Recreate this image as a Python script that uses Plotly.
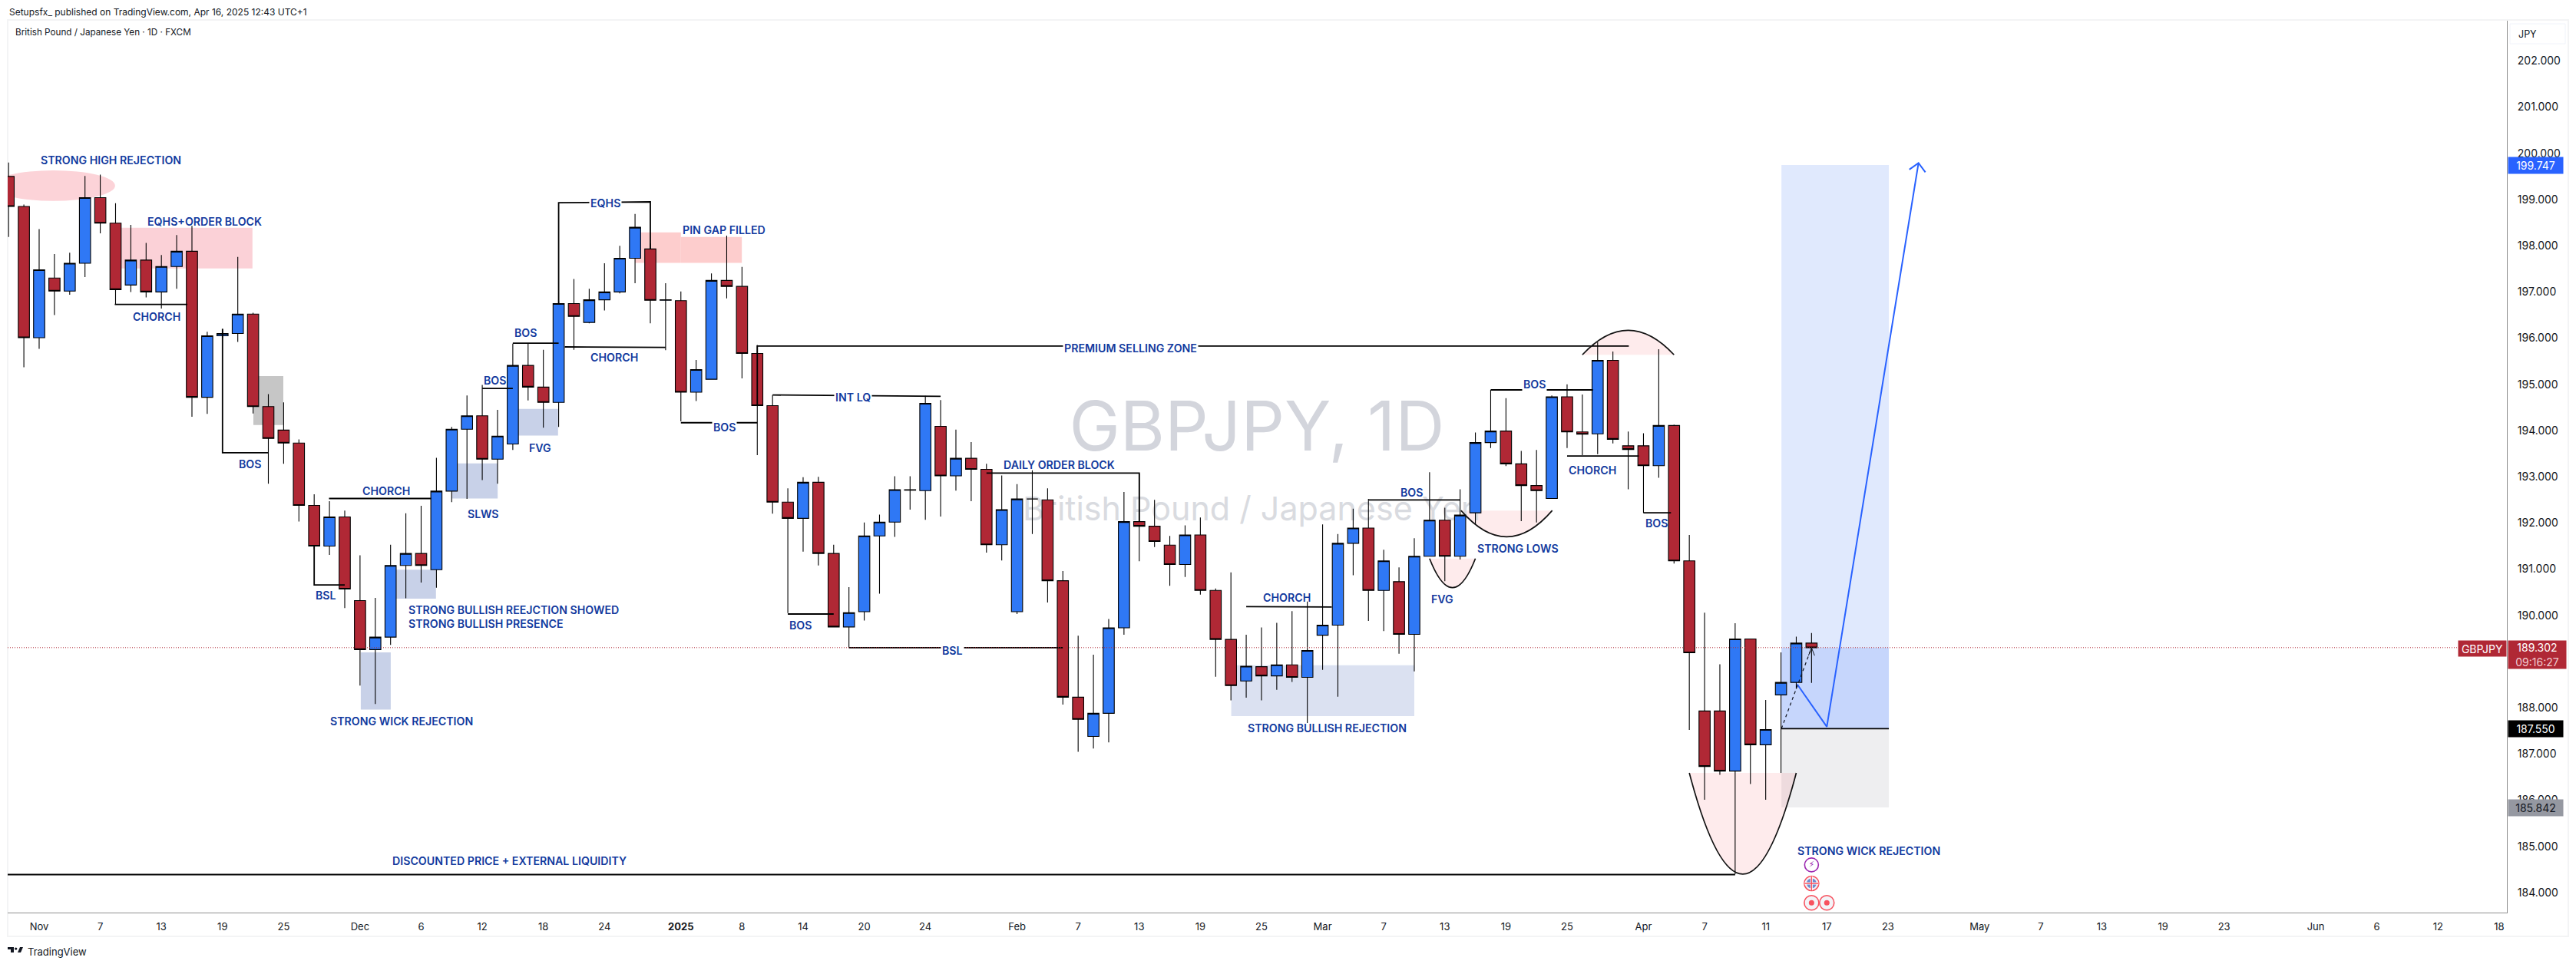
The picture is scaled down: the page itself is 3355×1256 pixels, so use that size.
import plotly.graph_objects as go

# ---------- candle data (index = trading session, 0 = 30 Oct 2024) ----------
opens = [199.50,198.85,196.01,197.30,197.02,197.62,199.04,198.49,197.15,197.69,197.00,197.55,197.88,194.72,196.05,196.10,196.52,194.52,194.01,193.73,
192.38,191.50,192.13,190.32,189.26,189.53,191.08,191.34,190.99,192.69,194.03,194.32,193.38,193.71,195.41,194.94,194.61,196.75,196.34,196.83,
197.00,197.73,197.93,196.82,196.81,194.83,195.11,197.25,197.12,195.67,194.54,192.45,192.10,192.88,191.34,189.75,190.08,191.72,192.02,192.72,
192.70,194.09,193.02,193.40,193.16,191.53,190.08,192.52,192.50,190.75,188.23,187.38,187.88,189.73,192.03,191.93,191.52,191.10,191.74,190.54,
189.48,188.58,188.89,188.69,188.93,188.66,189.57,189.79,191.56,191.89,190.54,190.73,189.59,191.28,192.06,191.28,192.22,193.74,193.99,193.28,
192.81,192.53,194.73,193.97,193.93,195.52,193.67,193.67,193.24,194.11,191.18,187.93,187.93,186.63,189.49,187.20,188.28,188.55,189.40]
highs = [199.80,198.89,198.36,197.82,197.85,199.51,199.54,198.92,198.45,198.06,197.80,198.23,198.43,196.14,196.20,197.76,196.55,194.79,194.61,193.81,
192.62,192.47,192.27,191.30,190.38,191.53,192.21,192.37,193.41,194.08,194.76,194.99,194.45,195.88,195.88,195.75,196.80,197.28,197.07,197.62,
198.00,198.69,198.05,197.19,197.01,195.53,197.40,198.22,197.54,195.85,194.77,192.75,192.99,193.00,191.53,190.61,192.01,192.18,193.01,193.01,
194.75,194.66,194.02,193.75,193.28,193.03,192.84,193.14,192.75,190.96,189.56,189.15,189.92,192.67,193.07,192.50,191.72,191.95,192.12,190.58,
190.93,189.58,189.74,189.84,190.09,190.30,191.97,191.76,192.31,192.52,191.42,191.04,191.67,193.10,192.33,192.73,193.96,194.88,194.70,193.56,
193.58,194.76,195.00,194.78,195.91,195.71,193.98,193.94,195.76,194.13,191.74,190.06,188.94,189.83,189.50,188.17,189.20,189.54,189.62]
lows = [198.19,195.37,195.77,196.50,196.94,197.32,198.27,196.73,197.00,196.88,196.64,197.07,194.30,194.36,196.00,195.92,194.37,192.85,193.28,192.03,
191.43,191.31,190.16,188.48,188.08,189.36,190.37,190.71,190.60,192.45,192.52,192.93,192.85,193.58,194.65,194.06,194.08,195.75,196.32,196.60,
196.97,197.19,196.32,195.74,194.20,194.64,195.11,196.86,195.13,193.47,192.20,190.05,191.38,191.08,189.75,189.30,189.89,190.47,191.70,192.29,
192.07,192.14,192.70,192.47,191.36,191.19,190.03,191.76,190.28,188.07,187.05,187.12,187.25,189.58,191.17,191.48,190.64,190.83,190.45,188.67,
188.16,188.22,188.16,188.39,188.56,187.67,188.82,188.24,190.87,189.88,189.66,189.17,188.79,191.28,190.74,191.21,191.97,193.62,193.23,192.04,
192.01,192.53,193.62,193.47,193.49,193.72,192.73,192.22,192.98,191.12,187.52,186.01,186.55,184.40,186.35,186.01,186.59,188.41,188.54]
closes = [198.85,196.01,197.48,197.02,197.62,199.04,198.49,197.05,197.69,197.00,197.55,197.88,194.72,196.05,196.10,196.52,194.52,193.83,193.73,192.38,
191.50,192.13,190.57,189.26,189.53,191.08,191.34,191.08,192.69,194.03,194.32,193.38,193.88,195.41,194.94,194.61,196.75,196.47,196.83,197.00,
197.73,198.40,196.82,196.83,194.83,195.32,197.25,197.12,195.67,194.54,192.45,192.10,192.88,191.34,189.75,190.06,191.72,192.02,192.72,192.71,
194.59,193.02,193.40,193.16,191.53,192.29,192.52,192.52,190.75,188.23,187.75,187.88,189.73,192.03,191.93,191.60,191.10,191.74,190.54,189.48,
188.48,188.90,188.69,188.93,188.66,189.24,189.79,191.56,191.89,190.54,191.18,189.59,191.28,192.06,191.28,192.17,193.74,193.99,193.28,192.81,
192.70,194.73,193.97,193.92,195.52,193.81,193.59,193.24,194.11,191.18,189.19,186.73,186.63,189.49,187.20,187.53,188.55,189.40,189.30]
sessions = list(range(len(closes)))

# ---------- axes ----------
x_tick_pos = [2,6,10,14,18,23,27,31,35,39,44,48,52,56,60,66,70,74,78,82,86,90,94,98,102,107,111,115,119,123,129,133,137,141,145,151,155,159,163]
x_tick_txt = ["Nov","7","13","19","25","Dec","6","12","18","24","<b>2025</b>","8","14","20","24","Feb","7","13","19","25","Mar","7","13","19","25","Apr","7","11","17","23","May","7","13","19","23","Jun","6","12","18"]
y_tick_pos = [184,185,186,187,188,190,191,192,193,194,195,196,197,198,199,200,201,202]
y_tick_txt = ["%d.000" % v for v in y_tick_pos]
x_range = [-0.06, 163.51]
y_range = [183.568, 202.87]

# ---------- price levels ----------
last_price = 189.302
entry_price = 187.55
target_price = 199.747
stop_price = 185.842

# ---------- drawings: zones (x0, x1, y0, y1, colour) ----------
zones = [
    (7.38,15.96,198.39,197.51,"#fbd1d7"),
    (16.02,17.98,195.18,194.12,"#c6c6c6"),
    (29.02,32.01,193.29,192.53,"#c8d1e8"),
    (33.0,35.96,194.47,193.89,"#c8d1e8"),
    (25.03,27.97,190.99,190.36,"#c8d1e8"),
    (23.05,25.01,189.20,187.96,"#c8d1e8"),
    (41.0,44.0,198.29,197.63,"#fdcdcd"),
    (44.0,47.99,198.19,197.63,"#fdcdcd"),
    (80.02,92.0,188.92,187.82,"#dbe1f1"),
    (116.03,123.06,199.747,189.302,"#e0e9fd"),
    (116.03,123.06,189.302,187.55,"#c6d6fc"),
    (116.03,123.06,187.55,185.842,"#eeeef0"),
]
# ellipse (x0, x1, y0, y1)
ellipse = (-1.1,6.97,199.63,198.97)
# arcs (x0, x1, chord price, extreme price)
arcs = [
    (95.06,101.03,192.27,191.70),
    (93.0,96.0,191.23,190.60),
    (103.0,109.0,195.64,196.17),
    (110.0,117.0,186.59,184.40),
]
# black brackets, list of polylines [(x,y),...]
brackets = [
    [(6.95,196.73),(11.7,196.73)],
    [(14,196.2),(14,193.52),(17.0,193.52)],
    [(20.97,192.53),(27.65,192.53)],
    [(20,191.5),(20,190.66),(22,190.66)],
    [(31,194.91),(33,194.91)],
    [(33,195.89),(36,195.89)],
    [(36,196.75),(36,198.93),(42,198.95),(42,197.93)],
    [(36.4,195.81),(43,195.80)],
    [(44,194.17),(49,194.17)],
    [(49,194.54),(49,195.83),(106.04,195.83)],
    [(50,194.77),(61,194.74)],
    [(51,190.03),(54,190.03)],
    [(55,189.30),(69,189.30)],
    [(64,193.08),(74,193.08),(74,192.03)],
    [(81,190.19),(86.6,190.18)],
    [(89,192.50),(95,192.50)],
    [(97,194.88),(103.7,194.88)],
    [(102,193.45),(106.7,193.45)],
    [(107,192.22),(108.8,192.22)],
    [(-1,184.39),(113,184.39)],
    [(116.03,187.55),(123.06,187.55)],
]
# projected path
path_x = [117.06,119.0,125.0]
path_y = [188.51,187.59,199.79]
head_x = [124.4,125.0,125.45]
head_y = [199.65,199.79,199.59]
dash_x = [116.03,118.0]
dash_y = [187.55,189.30]
dash_head_x = [117.8,118.0,118.2]
dash_head_y = [189.13,189.30,189.13]

# labels (text, x, y, white background)
labels = [
    ("STRONG HIGH REJECTION",6.7,199.85,False),
    ("EQHS+ORDER BLOCK",12.84,198.53,False),
    ("CHORCH",9.67,196.47,False),
    ("BOS",15.8,193.27,False),
    ("CHORCH",24.69,192.70,False),
    ("BSL",20.76,190.43,False),
    ("STRONG WICK REJECTION",25.74,187.72,False),
    ("SLWS",31.07,192.20,False),
    ("BOS",31.82,195.08,False),
    ("BOS",33.84,196.11,False),
    ("FVG",34.81,193.62,False),
    ("CHORCH",39.63,195.58,False),
    ("EQHS",39.06,198.93,True),
    ("PIN GAP FILLED",46.83,198.34,False),
    ("BOS",46.83,194.07,True),
    ("PREMIUM SELLING ZONE",73.43,195.79,True),
    ("INT LQ",55.26,194.72,True),
    ("BOS",51.84,189.79,False),
    ("BSL",61.77,189.24,True),
    ("DAILY ORDER BLOCK",68.77,193.26,False),
    ("CHORCH",83.67,190.38,False),
    ("STRONG BULLISH REJECTION",86.3,187.56,False),
    ("BOS",91.83,192.66,False),
    ("FVG",93.82,190.36,False),
    ("STRONG LOWS",98.77,191.45,False),
    ("BOS",99.85,195.01,True),
    ("CHORCH",103.67,193.15,False),
    ("BOS",107.84,191.99,False),
    ("STRONG WICK REJECTION",121.75,184.91,False),
    ("DISCOUNTED PRICE + EXTERNAL LIQUIDITY",32.8,184.69,False),
]
multi_label = "STRONG BULLISH REEJCTION SHOWED<br>STRONG BULLISH PRESENCE"
multi_label_pos = (26.09,189.97)

# event markers
event_x = [118,118,118,119]
event_y = [184.60,184.20,183.78,183.78]

W, H = 3355, 1256
L, R, T, B = 10, 3265, 27, 1189
def px(v): return (v - L) / (R - L)
def py(v): return (B - v) / (B - T)

INK = "#131722"
LABEL = "#123a9e"
FONT = "Inter"

fig = go.Figure()

# watermark on the base subplot, so the candles overlay it
fig.add_trace(go.Scatter(x=[81.7], y=[193.93], mode="text", text=["GBPJPY, 1D"],
    textfont=dict(family=FONT, size=89, color="#d3d5dc"), hoverinfo="skip", showlegend=False))
fig.add_trace(go.Scatter(x=[81.35], y=[192.24], mode="text", text=["British Pound / Japanese Yen"],
    textfont=dict(family=FONT, size=43, color="#d9dbe0"), hoverinfo="skip", showlegend=False))

fig.add_trace(go.Candlestick(
    x=sessions, open=opens, high=highs, low=lows, close=closes, xaxis="x2", yaxis="y2",
    whiskerwidth=0, hoverinfo="skip", showlegend=False,
    increasing=dict(fillcolor="#2f78f5", line=dict(color="#000000", width=1.1)),
    decreasing=dict(fillcolor="#b02835", line=dict(color="#000000", width=1.1)),
))

# brackets
bx, by = [], []
for poly in brackets:
    bx += [p[0] for p in poly] + [None]
    by += [p[1] for p in poly] + [None]
fig.add_trace(go.Scatter(x=bx, y=by, mode="lines", xaxis="x2", yaxis="y2", hoverinfo="skip",
    line=dict(color="#000000", width=1.8), showlegend=False, cliponaxis=True))
# current price line
fig.add_trace(go.Scatter(x=x_range, y=[last_price, last_price], mode="lines", xaxis="x2", yaxis="y2",
    hoverinfo="skip", line=dict(color="#b02835", width=1, dash="1px 2px"), showlegend=False))
# projected path
fig.add_trace(go.Scatter(x=path_x, y=path_y, mode="lines", xaxis="x2", yaxis="y2", hoverinfo="skip",
    line=dict(color="#2962ff", width=2), showlegend=False))
fig.add_trace(go.Scatter(x=head_x, y=head_y, mode="lines", xaxis="x2", yaxis="y2", hoverinfo="skip",
    line=dict(color="#2962ff", width=2), showlegend=False))
fig.add_trace(go.Scatter(x=dash_x, y=dash_y, mode="lines", xaxis="x2", yaxis="y2", hoverinfo="skip",
    line=dict(color="#131722", width=1.2, dash="4px 4px"), showlegend=False))
fig.add_trace(go.Scatter(x=dash_head_x, y=dash_head_y, mode="lines", xaxis="x2", yaxis="y2", hoverinfo="skip",
    line=dict(color="#131722", width=1), showlegend=False))

# event markers
fig.add_trace(go.Scatter(x=event_x[:1], y=event_y[:1], mode="markers+text", xaxis="x2", yaxis="y2", hoverinfo="skip",
    marker=dict(size=18, color="#ffffff", line=dict(color="#9c27b0", width=1.6)), showlegend=False,
    text=["⚡"], textposition="middle center", textfont=dict(family="DejaVu Sans", size=11, color="#9c27b0"), cliponaxis=False))
fig.add_trace(go.Scatter(x=event_x[1:], y=event_y[1:], mode="markers", xaxis="x2", yaxis="y2", hoverinfo="skip",
    marker=dict(size=19, color="#f3f4f8", line=dict(color="#f7525f", width=1.6)), showlegend=False, cliponaxis=False))
fig.add_trace(go.Scatter(x=event_x[2:], y=event_y[2:], mode="markers", xaxis="x2", yaxis="y2", hoverinfo="skip",
    marker=dict(size=7, color="#f7525f"), showlegend=False, cliponaxis=False))
fig.add_trace(go.Scatter(x=event_x[1:2], y=event_y[1:2], mode="markers", xaxis="x2", yaxis="y2", hoverinfo="skip",
    marker=dict(size=13, color="#6f8ccf"), showlegend=False, cliponaxis=False))
fig.add_trace(go.Scatter(x=event_x[1:2], y=event_y[1:2], mode="markers", xaxis="x2", yaxis="y2", hoverinfo="skip",
    marker=dict(size=13, symbol="cross-thin", line=dict(color="#ffffff", width=3)), showlegend=False, cliponaxis=False))
fig.add_trace(go.Scatter(x=event_x[1:2], y=event_y[1:2], mode="markers", xaxis="x2", yaxis="y2", hoverinfo="skip",
    marker=dict(size=13, symbol="cross-thin", line=dict(color="#f7525f", width=1.4)), showlegend=False, cliponaxis=False))

shapes = []
for x0, x1, y0, y1, c in zones:
    shapes.append(dict(type="rect", xref="x", yref="y", x0=x0, x1=x1, y0=y0, y1=y1, fillcolor=c, line_width=0, layer="below"))
shapes.append(dict(type="circle", xref="x", yref="y", x0=ellipse[0], x1=ellipse[1], y0=ellipse[2], y1=ellipse[3],
                   fillcolor="#fcd3d8", line_width=0, layer="below"))
for x0, x1, chord, extreme in arcs:
    cx = (x0 + x1) / 2
    cy = 2 * extreme - chord
    shapes.append(dict(type="path", xref="x", yref="y", path=f"M {x0} {chord} Q {cx} {cy} {x1} {chord} Z",
                       fillcolor="rgba(242,54,69,0.10)", line_width=0, layer="below"))
    shapes.append(dict(type="path", xref="x", yref="y", path=f"M {x0} {chord} Q {cx} {cy} {x1} {chord}",
                       line=dict(color="#111111", width=1.7), layer="above"))
# outer frame, price-axis chip, logo
shapes.append(dict(type="rect", xref="paper", yref="paper", x0=0, x1=px(3345), y0=py(1220), y1=py(26),
                   line=dict(color="#f3f4f5", width=2), layer="below"))
shapes.append(dict(type="rect", xref="paper", yref="paper", x0=px(3269), x1=px(3341), y0=py(57), y1=py(31),
                   line=dict(color="#f0f3fa", width=1), layer="below"))
def pth(pts):
    return "M " + " L ".join(f"{px(a)} {py(b)}" for a, b in pts) + " Z"
logo_polys = [[(10,1234),(18,1234),(18,1241),(14,1241),(14,1237),(10,1237)],
              [(23,1241),(26,1234),(30,1234),(27,1241)]]
for poly in logo_polys:
    shapes.append(dict(type="path", xref="paper", yref="paper", path=pth(poly), fillcolor=INK, line_width=0))
shapes.append(dict(type="circle", xref="paper", yref="paper", x0=px(19), x1=px(22.4), y0=py(1237.8), y1=py(1234.4),
                   fillcolor=INK, line_width=0))

LABEL_SIZE = 14.2
ann = []
for t, x, y, bg in labels:
    ann.append(dict(text=t, x=x, y=y, xref="x", yref="y", showarrow=False, align="center",
                    font=dict(family=FONT, size=LABEL_SIZE, color=LABEL, weight=600),
                    bgcolor="#ffffff" if bg else None, borderpad=1))
ann.append(dict(text=multi_label, x=multi_label_pos[0], y=multi_label_pos[1], xref="x", yref="y", showarrow=False,
                xanchor="left", align="left", font=dict(family=FONT, size=LABEL_SIZE, color=LABEL, weight=600)))

def tag(text, y, bg, fg, w=71, h=21, xpos=None, xanchor="left", yshift=0, yanchor="middle"):
    return dict(text=text, x=1.0003 if xpos is None else xpos, y=y, xref="paper", yref="y", showarrow=False,
                xanchor=xanchor, yanchor=yanchor, yshift=yshift, bgcolor=bg, width=w, height=h, align="center",
                font=dict(family=FONT, size=14, color=fg), borderpad=0)
ann.append(tag("%.3f" % target_price, target_price, "#2962ff", "#ffffff"))
ann.append(tag("%.3f" % entry_price, entry_price, "#000000", "#ffffff"))
ann.append(tag("%.3f" % stop_price, stop_price, "#9598a1", INK))
ann.append(tag("%.3f<br><span style='color:#efc9cd'>09:16:27</span>" % last_price, last_price, "#b02835", "#ffffff",
               w=75, h=36, yanchor="top", yshift=10))
ann.append(tag("GBPJPY", last_price, "#b02835", "#ffffff", w=62, h=20, xpos=1.0, xanchor="right", yshift=-1))

def plain(text, x, y, size, xanchor="left", color=INK):
    return dict(text=text, x=px(x), y=py(y), xref="paper", yref="paper", showarrow=False, xanchor=xanchor, yanchor="middle",
                font=dict(family=FONT, size=size, color=color))
ann.append(plain("Setupsfx_ published on TradingView.com, Apr 16, 2025 12:43 UTC+1", 10, 15.5, 12))
ann.append(plain("British Pound / Japanese Yen · 1D · FXCM", 18, 42.5, 11.7))
ann.append(plain("JPY", 3278, 44, 12.5))
ann.append(plain("TradingView", 34, 1240, 13))

axis_line = "#8f8f8f"
fig.update_layout(
    width=W, height=H, autosize=False,
    margin=dict(l=L, r=W - R, t=T, b=H - B, pad=0),
    paper_bgcolor="#ffffff", plot_bgcolor="rgba(0,0,0,0)",
    showlegend=False, boxgap=0.27, boxgroupgap=0, hovermode=False,
    shapes=shapes, annotations=ann,
    xaxis=dict(range=x_range, tickmode="array", tickvals=x_tick_pos, ticktext=x_tick_txt, showgrid=False, zeroline=False,
               showline=True, linecolor=axis_line, linewidth=1, ticks="", ticklabelstandoff=6,
               tickfont=dict(family=FONT, size=13, color=INK), rangeslider=dict(visible=False)),
    yaxis=dict(range=y_range, side="right", tickmode="array", tickvals=y_tick_pos, ticktext=y_tick_txt, showgrid=False,
               zeroline=False, showline=True, linecolor=axis_line, linewidth=1, ticks="", ticklabelstandoff=10,
               tickfont=dict(family=FONT, size=14, color=INK)),
    xaxis2=dict(overlaying="x", matches="x", visible=False, rangeslider=dict(visible=False)),
    yaxis2=dict(overlaying="y", matches="y", visible=False, side="right"),
)

fig.write_html("out.html", config=dict(displayModeBar=False, staticPlot=True),
               post_script="document.body.style.margin='0';")
